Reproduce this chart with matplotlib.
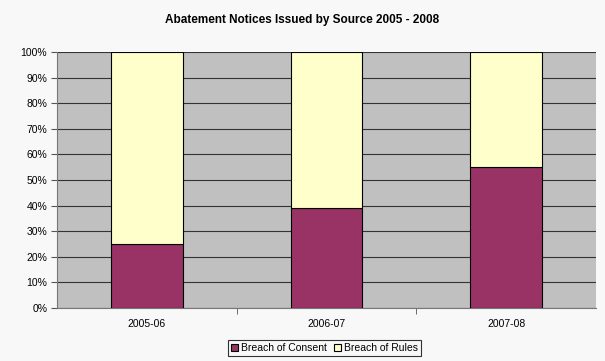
import matplotlib
matplotlib.use("Agg")
import matplotlib.pyplot as plt
from matplotlib.ticker import FixedLocator, PercentFormatter

categories = ["2005-06", "2006-07", "2007-08"]
consent = [25, 39, 55]
rules = [75, 61, 45]
series_names = ["Breach of Consent", "Breach of Rules"]

plt.rcParams['font.family'] = ['Liberation Sans', 'DejaVu Sans']

fig = plt.figure(figsize=(6.05, 3.61), dpi=100, facecolor='#f8f8f8')
ax = fig.add_axes([57/605, 1-308/361, (596-57)/605, (308-52)/361])
ax.set_facecolor('#c0c0c0')

x = list(range(len(categories)))
ax.bar(x, consent, width=0.4, color='#993366', edgecolor='black', linewidth=0.8,
       label=series_names[0], zorder=3)
ax.bar(x, rules, width=0.4, bottom=consent, color='#ffffcc', edgecolor='black',
       linewidth=0.8, label=series_names[1], zorder=3)

ax.set_xlim(-0.5, len(categories) - 0.5)
ax.set_ylim(0, 100)
ax.set_yticks(range(0, 101, 10))
ax.yaxis.set_major_formatter(PercentFormatter(decimals=0))
ax.yaxis.grid(True, color='#333333', linewidth=0.8, zorder=1)
ax.set_axisbelow(True)

ax.set_xticks(x)
ax.set_xticklabels(categories)
ax.xaxis.set_minor_locator(FixedLocator([0.5, 1.5]))
ax.tick_params(axis='x', which='major', length=0, pad=8, labelsize=7.5)
ax.tick_params(axis='x', which='minor', length=4, direction='out', color='#555555')
ax.tick_params(axis='y', length=4, direction='out', color='#555555', labelsize=7.5, pad=3)

for s in ['top', 'right']:
    ax.spines[s].set_visible(False)
ax.spines['left'].set_color('#777777')
ax.spines['bottom'].set_color('#777777')

fig.text(0.5, 1-20/361, "Abatement Notices Issued by Source 2005 - 2008",
         ha='center', va='center', fontsize=8.5, fontweight='bold')

leg = fig.legend(loc='center', bbox_to_anchor=(324.5/605, 1-348/361), ncol=2,
                 fontsize=7.5, frameon=True, fancybox=False, edgecolor='black',
                 handlelength=0.7, handleheight=0.7, handletextpad=0.3,
                 columnspacing=0.6, borderpad=0.3)
leg.get_frame().set_facecolor('#f8f8f8')
leg.get_frame().set_linewidth(0.8)

fig.savefig("out.png", dpi=100, facecolor=fig.get_facecolor())
